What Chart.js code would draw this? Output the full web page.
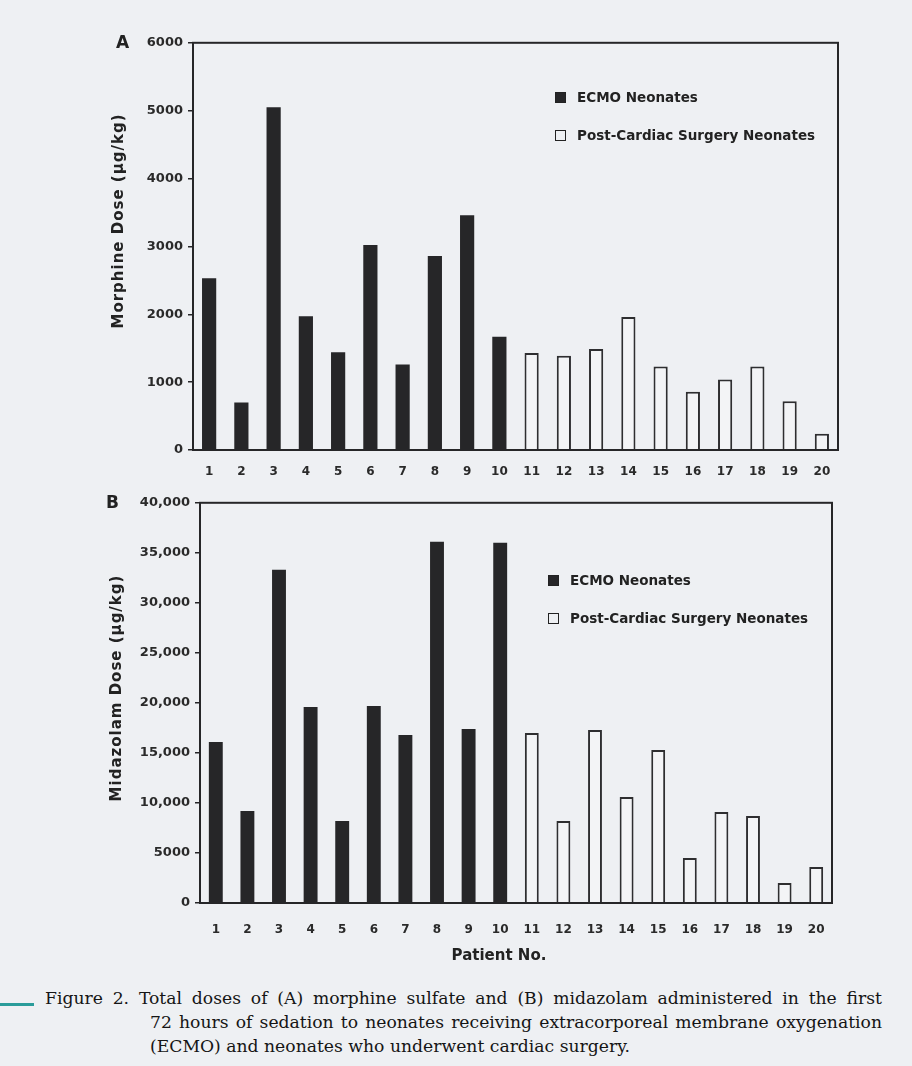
<!DOCTYPE html>
<html lang="en">
<head>
<meta charset="UTF-8">
<title>Figure 2 - Morphine and midazolam doses</title>
<script src="https://cdn.jsdelivr.net/npm/chart.js"></script>
<style>
  body { margin: 0; width: 912px; height: 1066px; position: relative; overflow: hidden;
         background: #eef0f3; font-family: "DejaVu Sans", sans-serif; color: #222; }
  .panel { position: absolute; }
  .tag { position: absolute; font-weight: bold; font-size: 17px; }
  .ytitle { position: absolute; font-weight: bold; font-size: 15px; letter-spacing: 1px; white-space: nowrap;
            transform: translate(-50%, -50%) rotate(-90deg); }
  .xtitle { position: absolute; font-weight: bold; font-size: 15px; transform: translate(-50%, -50%); }
  .legend { position: absolute; font-size: 13.5px; font-weight: bold; }
  .legend .row { display: flex; align-items: center; height: 20px; margin-bottom: 18px; }
  .legend .sw { width: 11px; height: 11px; box-sizing: border-box; border: 1.5px solid #222; margin-right: 11px; }
  .cap { position: absolute; font-family: "DejaVu Serif", serif; font-size: 17.2px; color: #151515;
         white-space: nowrap; line-height: 20px; }
  .just { text-align: justify; text-align-last: justify; white-space: normal; }
  .teal { position: absolute; left: 0; top: 1003px; width: 34px; height: 3px; background: #2a9c9a; }
</style>
</head>
<body>

<div class="panel" style="left:100px; top:30px; width:760px; height:460px;"><canvas id="chartA"></canvas></div>
<div class="panel" style="left:100px; top:490px; width:760px; height:470px;"><canvas id="chartB"></canvas></div>

<div class="tag" style="left:116px; top:32px;">A</div>
<div class="tag" style="left:106px; top:492px;">B</div>
<div class="ytitle" style="left:118px; top:221px;">Morphine Dose (µg/kg)</div>
<div class="ytitle" style="left:116px; top:688px;">Midazolam Dose (µg/kg)</div>
<div class="xtitle" style="left:499px; top:955px;">Patient No.</div>

<div class="legend" id="legendA" style="left:555px; top:87px;"></div>
<div class="legend" id="legendB" style="left:548px; top:570px;"></div>

<div class="cap just" style="left:45px; top:988px; width:837px;">Figure 2. Total doses of (A) morphine sulfate and (B) midazolam administered in the first</div>
<div class="cap just" style="left:150px; top:1012px; width:732px;">72 hours of sedation to neonates receiving extracorporeal membrane oxygenation</div>
<div class="cap" style="left:150px; top:1036px;">(ECMO) and neonates who underwent cardiac surgery.</div>
<div class="teal"></div>

<script>
// patients 1-10 were on ECMO, 11-20 had cardiac surgery
const patients = ['1','2','3','4','5','6','7','8','9','10','11','12','13','14','15','16','17','18','19','20'];
const seriesNames = ['ECMO Neonates', 'Post-Cardiac Surgery Neonates'];

// A: morphine (µg/kg)
const morphineEcmo = [2530, 700, 5050, 1970, 1440, 3020, 1260, 2860, 3460, 1670];
const morphinePostCardiac = [1430, 1390, 1490, 1960, 1230, 860, 1040, 1230, 720, 240];
const morphineTicks = [0, 1000, 2000, 3000, 4000, 5000, 6000];

// B: midazolam (µg/kg)
const midazolamEcmo = [16100, 9200, 33300, 19600, 8200, 19700, 16800, 36100, 17400, 36000];
const midazolamPostCardiac = [17000, 8200, 17300, 10600, 15300, 4500, 9100, 8700, 2000, 3600];
const midazolamTicks = [0, 5000, 10000, 15000, 20000, 25000, 30000, 35000, 40000];

const ink = '#262628';

// box round the plot area
const frame = {
  id: 'frame',
  afterDatasetsDraw(chart) {
    const { ctx, chartArea: a } = chart;
    ctx.save();
    ctx.strokeStyle = ink;
    ctx.lineWidth = 2;
    ctx.strokeRect(a.left, a.top, a.right - a.left, a.bottom - a.top);
    ctx.restore();
  }
};

function fmt(v) {
  return v >= 10000 ? v.toLocaleString('en-US') : String(v);
}

function makeChart(id, ecmo, post, ticks, box) {
  const blank = ecmo.map(() => null);
  new Chart(document.getElementById(id), {
    type: 'bar',
    data: {
      labels: patients,
      datasets: [
        { label: seriesNames[0], data: ecmo.concat(post.map(() => null)),
          backgroundColor: ink, borderColor: ink, borderWidth: 0 },
        { label: seriesNames[1], data: blank.concat(post),
          backgroundColor: '#f3f4f6', borderColor: '#2e2e30', borderWidth: 2 }
      ]
    },
    options: {
      responsive: true,
      maintainAspectRatio: false,
      animation: false,
      layout: { padding: { top: 12, right: box.right, left: 0, bottom: 0 } },
      datasets: { bar: { grouped: false, barPercentage: 0.44, categoryPercentage: 1 } },
      plugins: { legend: { display: false }, tooltip: { enabled: false } },
      scales: {
        x: {
          grid: { display: false },
          border: { display: false },
          ticks: { color: '#2a2a2a', padding: box.xpad, maxRotation: 0, autoSkip: false,
                   font: { family: 'DejaVu Sans', size: 12, weight: 'bold' } },
          afterFit: s => { s.height = box.xh; }
        },
        y: {
          min: 0,
          max: ticks[ticks.length - 1],
          afterBuildTicks: s => { s.ticks = ticks.map(v => ({ value: v })); },
          grid: { drawOnChartArea: false, drawTicks: true, tickLength: 5, color: ink, lineWidth: 1.5 },
          border: { display: false },
          ticks: { color: '#2a2a2a', padding: 5, callback: v => fmt(v),
                   font: { family: 'DejaVu Sans', size: 13, weight: 'bold' } },
          afterFit: s => { s.width = box.yw; }
        }
      }
    },
    plugins: [frame]
  });
}

function makeLegend(id, ecmoColor) {
  const el = document.getElementById(id);
  const fills = [ecmoColor, 'transparent'];
  seriesNames.forEach((name, i) => {
    const row = document.createElement('div');
    row.className = 'row';
    const sw = document.createElement('span');
    sw.className = 'sw';
    sw.style.background = fills[i];
    const t = document.createElement('span');
    t.textContent = name;
    row.appendChild(sw);
    row.appendChild(t);
    el.appendChild(row);
  });
}

makeChart('chartA', morphineEcmo, morphinePostCardiac, morphineTicks, { right: 22, yw: 93, xh: 40, xpad: 7 });
makeChart('chartB', midazolamEcmo, midazolamPostCardiac, midazolamTicks, { right: 28, yw: 100, xh: 57, xpad: 12 });
makeLegend('legendA', ink);
makeLegend('legendB', ink);
</script>
</body>
</html>
